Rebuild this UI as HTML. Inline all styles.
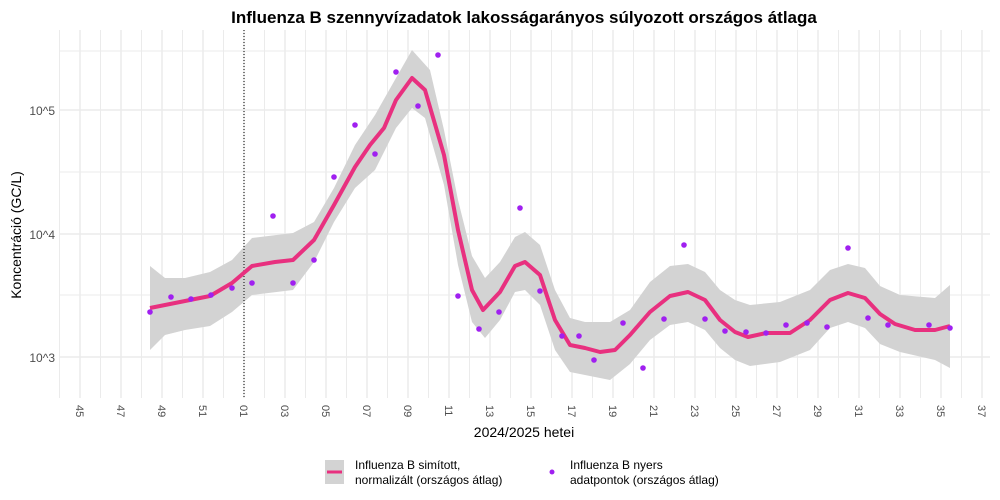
<!DOCTYPE html>
<html><head><meta charset="utf-8"><style>
body{margin:0;background:#fff;}
svg{display:block;font-family:"Liberation Sans",sans-serif;}
</style></head><body>
<svg width="1000" height="500" viewBox="0 0 1000 500">
<rect width="1000" height="500" fill="#fff"/>
<g stroke="#ebebeb" stroke-width="1">
<line x1="60" x2="990" y1="51" y2="51"/><line x1="60" x2="990" y1="172" y2="172"/><line x1="60" x2="990" y1="295" y2="295"/>
<line x1="60" x2="990" y1="110" y2="110" stroke-width="1.5"/><line x1="60" x2="990" y1="234" y2="234" stroke-width="1.5"/><line x1="60" x2="990" y1="357" y2="357" stroke-width="1.5"/>
</g>
<g id="vg" stroke="#ebebeb"></g>
<path d="M150,266 L165,278 L185,278 L210,272 L232,260 L252,238 L293,233 L314,222 L334,188 L355,145 L375,115 L396,78 L412,50 L430,70 L444,130 L458,200 L472,256 L485,278 L500,262 L515,237 L525,232 L540,245 L555,290 L570,318 L585,322 L610,322 L630,310 L650,282 L670,266 L688,264 L705,272 L720,290 L735,300 L750,305 L780,302 L810,290 L830,270 L848,264 L865,268 L880,286 L900,295 L935,298 L950,285 L950,368 L935,360 L900,352 L880,344 L865,328 L848,322 L830,328 L810,350 L780,362 L750,366 L735,360 L720,348 L705,330 L688,322 L670,325 L650,340 L630,364 L610,380 L585,375 L570,372 L555,350 L540,305 L525,290 L515,292 L500,320 L485,338 L472,322 L458,265 L444,185 L425,118 L412,108 L396,128 L375,170 L355,188 L334,222 L314,262 L293,290 L252,295 L232,312 L210,326 L185,330 L165,335 L150,350 Z" fill="#d3d3d3"/>
<line x1="244" x2="244" y1="30" y2="398" stroke="#000" stroke-width="1" stroke-dasharray="1,2"/>
<path d="M150,308 L180,302 L210,296 L232,283 L252,266 L275,262 L293,260 L314,240 L334,205 L355,167 L370,145 L384,128 L396,100 L412,78 L425,90 L444,155 L458,230 L472,290 L483,310 L500,292 L515,266 L525,262 L540,275 L555,320 L570,345 L585,348 L600,352 L615,350 L630,335 L650,312 L670,296 L688,292 L705,300 L720,320 L735,332 L748,337 L766,333 L790,333 L810,320 L830,300 L848,293 L865,298 L880,314 L895,324 L915,330 L935,330 L950,326" fill="none" stroke="#e8307f" stroke-width="4" stroke-linejoin="round"/>
<g fill="#a020f0" id="pts"></g>
<g font-size="11" fill="#4d4d4d" id="xl"></g>
<g font-size="12" fill="#4d4d4d" text-anchor="end">
<text x="55" y="115">10^5</text><text x="55" y="239">10^4</text><text x="55" y="362">10^3</text>
</g>
<text x="524" y="23" font-size="17" font-weight="bold" text-anchor="middle">Influenza B szennyvízadatok lakosságarányos súlyozott országos átlaga</text>
<text x="524" y="437" font-size="14" text-anchor="middle">2024/2025 hetei</text>
<text transform="translate(21,235) rotate(-90)" font-size="14" text-anchor="middle">Koncentráció (GC/L)</text>
<rect x="325" y="460" width="19" height="24" fill="#d3d3d3"/>
<line x1="327" x2="342" y1="472" y2="472" stroke="#e8307f" stroke-width="3"/>
<text x="355" y="469" font-size="12">Influenza B simított,</text>
<text x="355" y="484" font-size="12"> normalizált (országos átlag)</text>
<circle cx="552" cy="472" r="2.5" fill="#a020f0"/>
<text x="570" y="469" font-size="12">Influenza B nyers</text>
<text x="570" y="484" font-size="12"> adatpontok (országos átlag)</text>
</svg>
<script>
var ns="http://www.w3.org/2000/svg";
var vg=document.getElementById("vg");
for(var i=-1;i<=45;i++){var x=80+20.5*i;if(x<59||x>991)continue;var l=document.createElementNS(ns,"line");l.setAttribute("x1",x);l.setAttribute("x2",x);l.setAttribute("y1",30);l.setAttribute("y2",398);l.setAttribute("stroke-width",i%2==0?1.5:1);vg.appendChild(l);}
var xl=document.getElementById("xl");
var labs=["45","47","49","51","01","03","05","07","09","11","13","15","17","19","21","23","25","27","29","31","33","35","37"];
labs.forEach(function(s,k){var x=80+41*k;var t=document.createElementNS(ns,"text");t.setAttribute("transform","translate("+(x-4)+",405) rotate(90)");t.textContent=s;xl.appendChild(t);});
var P=[[150,312],[171,297],[191,299],[211,295],[232,288],[252,283],[273,216],[293,283],[314,260],[334,177],[355,125],[375,154],[396,72],[418,106],[438,55],[458,296],[479,329],[499,312],[520,208],[540,291],[562,336],[579,336],[594,360],[623,323],[643,368],[664,319],[684,245],[705,319],[725,331],[746,332],[766,333],[786,325],[807,323],[827,327],[848,248],[868,318],[888,325],[929,325],[950,328]];
var g=document.getElementById("pts");
P.forEach(function(p){var c=document.createElementNS(ns,"circle");c.setAttribute("cx",p[0]);c.setAttribute("cy",p[1]);c.setAttribute("r",2.8);g.appendChild(c);});
</script>
</body></html>
